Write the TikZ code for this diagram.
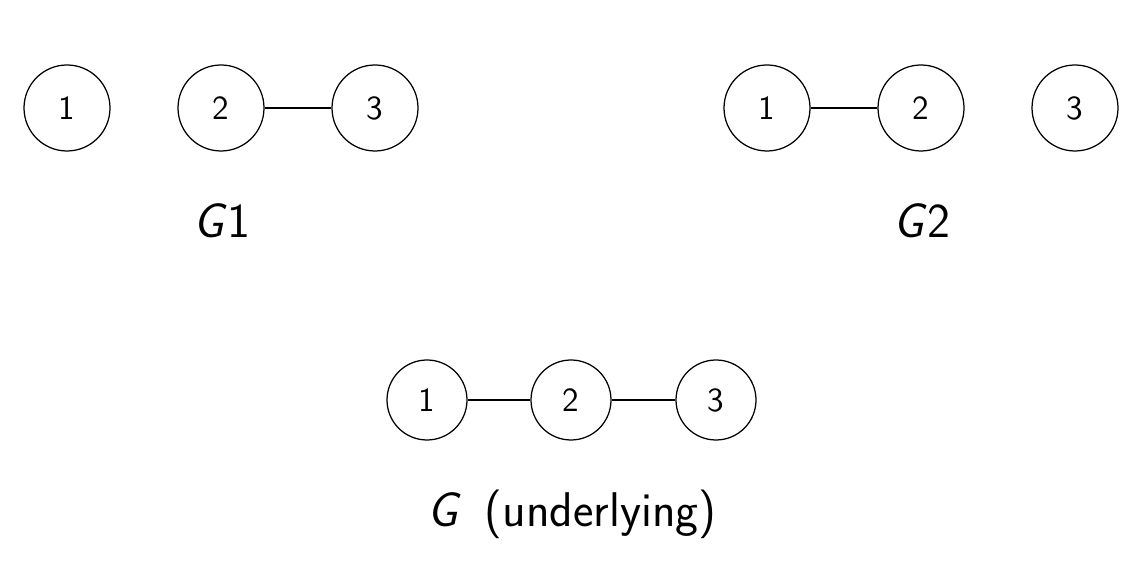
\documentclass[tikz,border=0pt]{standalone}
\begin{document}
\begin{tikzpicture}[x=0.4pt,y=-0.4pt,
  vtx/.style={circle,draw,line width=0.5pt,minimum size=34.4pt,inner sep=0pt,font=\sffamily\fontsize{13.5}{15}\selectfont},
  vtxs/.style={vtx,minimum size=32pt},
  edge/.style={line width=0.5pt},
  lbl/.style={anchor=base,font=\sffamily\fontsize{19.5}{23}\selectfont}]
\useasboundingbox (0,0) rectangle (1145,564);
% G1
\node[vtx] (a1) at (67,108) {1};
\node[vtx] (a2) at (221,108) {2};
\node[vtx] (a3) at (375,108) {3};
\draw[edge] (a2) -- (a3);
\node[lbl] (la) at (222,238) {\textit{G}1};
% G2
\node[vtx] (b1) at (767,108) {1};
\node[vtx] (b2) at (921,108) {2};
\node[vtx] (b3) at (1075,108) {3};
\draw[edge] (b1) -- (b2);
\node[lbl] (lb) at (922,238) {\textit{G}2};
% G
\node[vtxs] (c1) at (427,400) {1};
\node[vtxs] (c2) at (571,400) {2};
\node[vtxs] (c3) at (716,400) {3};
\draw[edge] (c1) -- (c2);
\draw[edge] (c2) -- (c3);
\node[lbl] (lc) at (572,527) {\textit{G}\ \,(underlying)};
\end{tikzpicture}
\end{document}
